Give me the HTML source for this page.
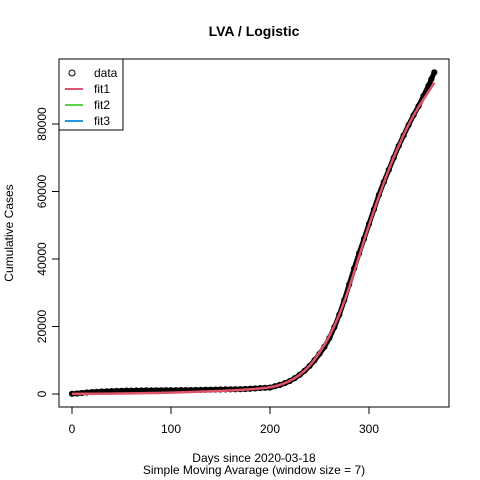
<!DOCTYPE html>
<html><head><meta charset="utf-8"><style>
body{margin:0;background:#fff}
svg{display:block;font-family:"Liberation Sans",Arial,sans-serif}
</style></head><body>
<svg id="chart" width="480" height="480" viewBox="0 0 480 480">
<rect width="480" height="480" fill="#fff"/>
<text x="254" y="36" text-anchor="middle" font-weight="bold" font-size="14">LVA / Logistic</text>
<rect x="59" y="59" width="390" height="348" fill="none" stroke="#000"/>
<g id="xaxis"></g>
<g id="yaxis"></g>
<text x="254" y="462" text-anchor="middle" font-size="12">Days since 2020-03-18</text>
<text x="254" y="474" text-anchor="middle" font-size="12">Simple Moving Avarage (window size = 7)</text>
<text transform="translate(13,233) rotate(-90)" text-anchor="middle" font-size="12">Cumulative Cases</text>
<g id="series"></g>
<g>
<rect x="59" y="59" width="64" height="71" fill="#fff" stroke="#000"/>
<circle cx="72" cy="73" r="3" fill="none" stroke="#000"/>
<text x="94" y="77" font-size="12">data</text>
<line x1="65" x2="83" y1="89" y2="89" stroke="#DF536B" stroke-width="2"/>
<text x="94" y="93" font-size="12">fit1</text>
<line x1="65" x2="83" y1="105" y2="105" stroke="#61D04F" stroke-width="2"/>
<text x="94" y="109" font-size="12">fit2</text>
<line x1="65" x2="83" y1="121" y2="121" stroke="#2297E6" stroke-width="2"/>
<text x="94" y="125" font-size="12">fit3</text>
</g>
</svg>
<script>
const dataDays=[0,5,10,15,20,25,30,35,40,45,50,55,60,65,70,75,80,85,90,95,100,105,110,115,120,125,130,135,140,145,150,155,160,165,170,175,180,185,190,195,200,205,210,215,220,225,230,235,240,245,250,255,260,265,270,275,280,285,290,295,300,305,310,315,320,325,330,335,340,345,350,355,360,363,366];
const dataCases=[60,150,300,450,550,650,750,800,850,900,950,1000,1010,1030,1050,1070,1080,1090,1100,1110,1120,1130,1140,1150,1170,1200,1230,1260,1280,1300,1330,1360,1380,1400,1430,1480,1550,1650,1750,1830,1900,2300,2700,3200,3850,4700,5700,6900,8300,10000,11900,14000,16600,19800,23500,27800,32500,37200,41700,46000,50400,54700,59000,62800,66400,70000,73500,76600,79700,82600,85300,88300,91300,93300,95300];
const fitDays=[0,20,40,60,80,100,120,140,160,180,190,200,210,220,230,240,250,260,270,280,290,300,310,320,330,340,350,360,366];
const fit1=[40,70,110,180,280,400,580,800,1050,1400,1650,2000,2700,3900,5700,8400,12300,17200,23600,31600,40800,50000,58500,66500,73500,79800,85000,89500,92300];
const xTicks=[0,100,200,300];
const yTicks=[0,20000,40000,60000,80000];
const NS="http://www.w3.org/2000/svg";
const sx=d=>72+d*0.99;
const sy=v=>394-v*67.5/20000;
function mk(t,a,p){const e=document.createElementNS(NS,t);for(const k in a)e.setAttribute(k,a[k]);p.appendChild(e);return e;}
function smooth(xs,ys){let p=`M${sx(xs[0])},${sy(ys[0])}`;for(let i=0;i<xs.length-1;i++){const x0=sx(xs[Math.max(i-1,0)]),y0=sy(ys[Math.max(i-1,0)]),x1=sx(xs[i]),y1=sy(ys[i]),x2=sx(xs[i+1]),y2=sy(ys[i+1]),j=Math.min(i+2,xs.length-1),x3=sx(xs[j]),y3=sy(ys[j]);p+=` C${x1+(x2-x0)/6},${y1+(y2-y0)/6} ${x2-(x3-x1)/6},${y2-(y3-y1)/6} ${x2},${y2}`;}return p;}
const xa=document.getElementById('xaxis'),ya=document.getElementById('yaxis'),sr=document.getElementById('series');
mk('line',{x1:sx(0),x2:sx(300),y1:407,y2:407,stroke:'#000'},xa);
xTicks.forEach(t=>{mk('line',{x1:sx(t),x2:sx(t),y1:407,y2:414,stroke:'#000'},xa);
const tx=mk('text',{x:sx(t),y:433,'text-anchor':'middle','font-size':12},xa);tx.textContent=t;

});
mk('line',{x1:59,x2:59,y1:sy(0),y2:sy(80000),stroke:'#000'},ya);
yTicks.forEach(t=>{mk('line',{x1:52,x2:59,y1:sy(t),y2:sy(t),stroke:'#000'},ya);
const tx=mk('text',{transform:`translate(46,${sy(t)}) rotate(-90)`,'text-anchor':'middle','font-size':12},ya);tx.textContent=t;

});
const band=mk('path',{d:smooth(dataDays,dataCases),fill:'none',stroke:'#000','stroke-width':5,'stroke-linecap':'round'},sr);


const g=mk('g',{},sr);


dataDays.forEach((d,i)=>{const c=mk('circle',{cx:sx(d),cy:sy(dataCases[i]),r:2.6,fill:'none',stroke:'#000','stroke-width':1},g);

});
const pl=mk('path',{d:smooth(fitDays,fit1),fill:'none',stroke:'#DF536B','stroke-width':2.5},sr);


</script>
</body></html>
